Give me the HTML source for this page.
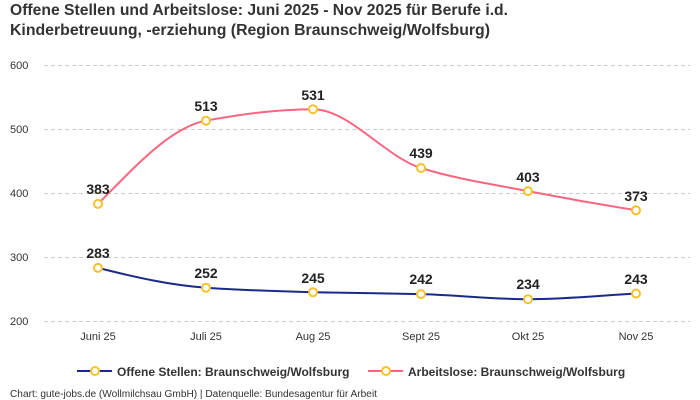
<!DOCTYPE html><html><head><style>body{margin:0;background:#fff}svg{display:block}text{font-family:"Liberation Sans",sans-serif}</style></head><body>
<svg width="700" height="400" xmlns="http://www.w3.org/2000/svg">
<text x="10" y="15" font-size="16" font-weight="bold" fill="#333" textLength="498" lengthAdjust="spacingAndGlyphs">Offene Stellen und Arbeitslose: Juni 2025 - Nov 2025 für Berufe i.d.</text>
<text x="10" y="35" font-size="16" font-weight="bold" fill="#333" textLength="480" lengthAdjust="spacingAndGlyphs">Kinderbetreuung, -erziehung (Region Braunschweig/Wolfsburg)</text>
<g stroke="#ccc" stroke-dasharray="4,3" stroke-width="1">
<line x1="44" x2="690" y1="65.5" y2="65.5"/><line x1="44" x2="690" y1="129.5" y2="129.5"/><line x1="44" x2="690" y1="193.5" y2="193.5"/><line x1="44" x2="690" y1="257.5" y2="257.5"/><line x1="44" x2="690" y1="321.5" y2="321.5"/></g>
<g font-size="11" fill="#333"><text x="10" y="69">600</text><text x="10" y="133">500</text><text x="10" y="197">400</text><text x="10" y="261">300</text><text x="10" y="325">200</text></g>
<g font-size="11" fill="#333" text-anchor="middle"><text x="98" y="340">Juni 25</text><text x="206" y="340">Juli 25</text><text x="313" y="340">Aug 25</text><text x="421" y="340">Sept 25</text><text x="528" y="340">Okt 25</text><text x="636" y="340">Nov 25</text></g>
<path fill="none" stroke="#f7677f" stroke-width="2" d="M98,203.9 C134,167.9 170,127.2 206,120.7 C242,114.2 277,109.2 313,109.2 C349,109.2 385,156.8 421,168 C457,179.2 492,184.1 528,191.1 C564,198.1 600,204.5 636,210.3"/>
<path fill="none" stroke="#1a2a8a" stroke-width="2" d="M98,267.9 C134,276.9 170,285.2 206,287.7 C242,290.2 277,291.3 313,292.2 C349,293.1 385,293.2 421,294.1 C457,295 492,299.2 528,299.2 C564,299.2 600,295.6 636,293.5"/>
<g fill="#fff" stroke="#f5c22b" stroke-width="2">
<circle cx="98" cy="203.9" r="4"/><circle cx="206" cy="120.7" r="4"/><circle cx="313" cy="109.2" r="4"/><circle cx="421" cy="168" r="4"/><circle cx="528" cy="191.1" r="4"/><circle cx="636" cy="210.3" r="4"/>
<circle cx="98" cy="267.9" r="4"/><circle cx="206" cy="287.7" r="4"/><circle cx="313" cy="292.2" r="4"/><circle cx="421" cy="294.1" r="4"/><circle cx="528" cy="299.2" r="4"/><circle cx="636" cy="293.5" r="4"/></g>
<g font-size="14" font-weight="bold" fill="#222" text-anchor="middle">
<text x="98" y="194">383</text><text x="206" y="111">513</text><text x="313" y="100">531</text><text x="421" y="158">439</text><text x="528" y="182">403</text><text x="636" y="201">373</text>
<text x="98" y="258">283</text><text x="206" y="278">252</text><text x="313" y="283">245</text><text x="421" y="284">242</text><text x="528" y="289">234</text><text x="636" y="284">243</text></g>
<line x1="77" x2="112" y1="371" y2="371" stroke="#1a2a8a" stroke-width="2"/><circle cx="95" cy="371" r="4" fill="#fff" stroke="#f5c22b" stroke-width="2"/>
<text x="117" y="376" font-size="12" font-weight="bold" fill="#333">Offene Stellen: Braunschweig/Wolfsburg</text>
<line x1="368" x2="403" y1="371" y2="371" stroke="#f7677f" stroke-width="2"/><circle cx="386" cy="371" r="4" fill="#fff" stroke="#f5c22b" stroke-width="2"/>
<text x="408" y="376" font-size="12" font-weight="bold" fill="#333">Arbeitslose: Braunschweig/Wolfsburg</text>
<text x="10" y="397" font-size="10" fill="#333" textLength="367" lengthAdjust="spacingAndGlyphs">Chart: gute-jobs.de (Wollmilchsau GmbH) | Datenquelle: Bundesagentur für Arbeit</text>
</svg></body></html>
